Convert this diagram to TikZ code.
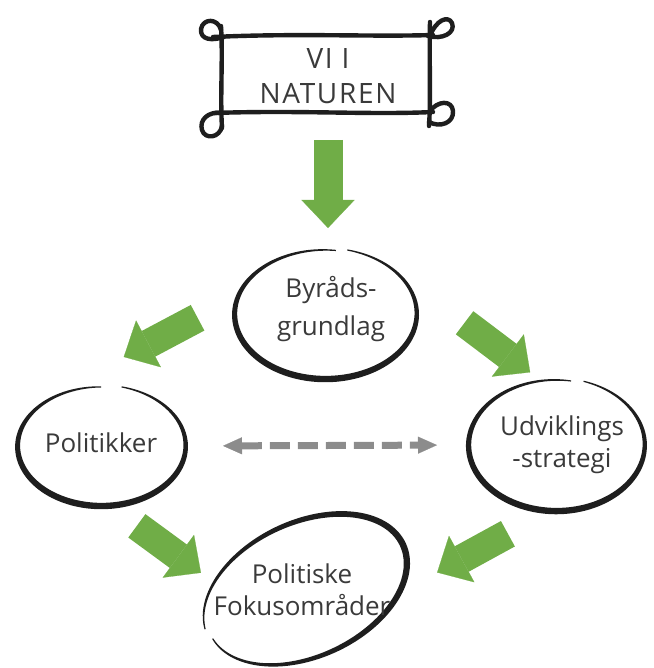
\documentclass[tikz,border=0pt]{standalone}
\usepackage{fontspec}
\setmainfont{Open Sans}
\usetikzlibrary{arrows.meta,shapes.geometric}
\definecolor{leaf}{HTML}{70AD47}
\definecolor{ink}{HTML}{1E1E1E}
\definecolor{pencil}{HTML}{3A3A3A}
\definecolor{ash}{HTML}{8C8C8C}
\newcommand{\brushring}[6]{%
  \begin{scope}[shift={(#1.center)},rotate=#4]
  \fill[ink] plot[domain=#5:#6,samples=120,smooth,variable=\t]
    ({(#2*(1.015-0.03*(\t-#5)/(#6-#5))+0.6+2.6*sin((\t-#5)/(#6-#5)*180))*cos(\t)},
     {(#3*(1.015-0.03*(\t-#5)/(#6-#5))+0.6+2.6*sin((\t-#5)/(#6-#5)*180))*sin(\t)})
    -- plot[domain=#6:#5,samples=120,smooth,variable=\t]
    ({(#2*(1.015-0.03*(\t-#5)/(#6-#5))-0.6-2.6*sin((\t-#5)/(#6-#5)*180))*cos(\t)},
     {(#3*(1.015-0.03*(\t-#5)/(#6-#5))-0.6-2.6*sin((\t-#5)/(#6-#5)*180))*sin(\t)}) -- cycle;
  \end{scope}}
\begin{document}
\begin{tikzpicture}[x=0.5pt,y=-0.5pt,line join=round,
  ring/.style={ellipse,inner sep=0pt,outer sep=0pt},
  txt/.style={font=\fontsize{13}{16}\selectfont,text=pencil,align=center,inner sep=0pt},
  pen/.style={draw=ink,line width=2.2pt,line cap=round},
  bigarrow/.style={draw=leaf,line width=14.5pt,-{Triangle[length=14pt,width=26.5pt,line width=0.1pt]}},
  linkarrow/.style={draw=ash,line width=3.5pt,dash pattern=on 10pt off 4pt,
    {Triangle[length=9.5pt,width=8.5pt,line width=0.1pt]}-{Triangle[length=9.5pt,width=8.5pt,line width=0.1pt]}}]
	\useasboundingbox (0,0) rectangle (653,668);
	\node[txt,minimum width=104pt,minimum height=38.5pt,font=\fontsize{14}{17.5}\selectfont\addfontfeatures{LetterSpace=6}] (scroll) at (328,76) {VI I\\NATUREN};
	\draw[pen] (213,37) .. controls (300,33) and (370,37) .. (433,35);
	\draw[pen] (214,113) .. controls (300,110) and (370,115) .. (433,112);
	\draw[pen] (221,26) .. controls (223,60) and (220,95) .. (222,128);
	\draw[pen] (430,22) .. controls (429,60) and (431,95) .. (429,126);
	\draw[pen] (221,30) .. controls (218,18) and (203,18) .. (201,29) .. controls (200,40) and (212,41) .. (224,37);
	\draw[pen] (430,36) .. controls (436,20) and (448,15) .. (452,23) .. controls (456,33) and (442,40) .. (428,36);
	\draw[pen] (222,113) .. controls (208,111) and (199,120) .. (202,130) .. controls (205,140) and (220,138) .. (222,126);
	\draw[pen] (429,112) .. controls (438,100) and (452,100) .. (453,111) .. controls (454,123) and (440,128) .. (429,122);
	\node[ring,minimum width=93pt,minimum height=67pt] (byr) at (325,314) {};
	\node[ring,minimum width=86pt,minimum height=62pt] (pol) at (101,446) {};
	\node[ring,minimum width=90pt,minimum height=68pt] (udv) at (556,445) {};
	\node[ring,minimum width=109pt,minimum height=69pt,rotate=25] (fok) at (306,590) {};
	\brushring{byr}{91}{65}{0}{284}{637}
	\brushring{pol}{84}{60}{0}{284}{630}
	\brushring{udv}{88}{66}{0}{288}{640}
	\brushring{fok}{107}{67}{25}{186}{536}
	\node[txt,font=\fontsize{13}{19}\selectfont] (byr-t) at ([xshift=3pt,yshift=2.5pt]byr.center) {Byråds-\\grundlag};
	\node[txt] (pol-t) at ([yshift=1.5pt]pol.center) {Politikker};
	\node[txt] (udv-t) at ([xshift=3pt]udv.center) {Udviklings\\-strategi};
	\node[txt] (fok-t) at ([xshift=-2pt]fok.center) {Politiske\\Fokusområder};
	\draw[bigarrow,shorten <=12.5pt,shorten >=9.5pt] (scroll.south) -- (scroll.south |- byr.north);
	\draw[bigarrow,shorten <=21pt,shorten >=42pt] (byr.170) -- (pol.136);
	\draw[bigarrow,shorten <=42pt,shorten >=5pt] (byr.30) -- (udv.105);
	\draw[bigarrow,shorten <=15.5pt,shorten >=7.7pt] (pol.-80) -- (fok.150);
	\draw[bigarrow,shorten <=22pt,shorten >=20pt] (udv.-98) -- (fok.-26);
	\draw[linkarrow,shorten <=18pt,shorten >=14.5pt] (pol.east) -- (udv.west);
\end{tikzpicture}
\end{document}
